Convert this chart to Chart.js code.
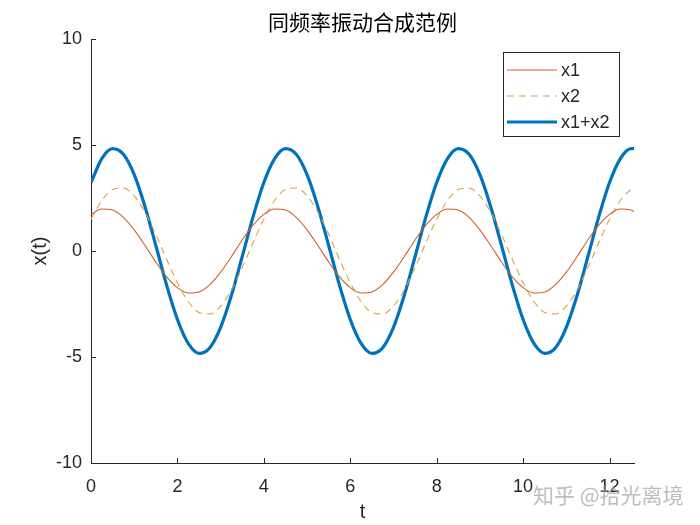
<!DOCTYPE html>
<html>
<head>
<meta charset="utf-8">
<script src="https://cdn.jsdelivr.net/npm/chart.js@4/dist/chart.umd.min.js"></script>
<style>
  html, body { margin: 0; padding: 0; background: #fff; }
  #wrap { width: 700px; height: 525px; position: relative; }
</style>
</head>
<body>
<div id="wrap"><canvas id="mycanvas" width="700" height="525"></canvas></div>
<script>
var titleText = "同频率振动合成范例";
var xLabel = "t";
var yLabel = "x(t)";
var watermark = "知乎 @拾光离境";
var seriesNames = ["x1", "x2", "x1+x2"];

var t = [0, 0.25, 0.5, 0.75, 1, 1.25, 1.5, 1.75, 2, 2.25, 2.5, 2.75, 3, 3.25, 3.5, 3.75,
  4, 4.25, 4.5, 4.75, 5, 5.25, 5.5, 5.75, 6, 6.25, 6.5, 6.75, 7, 7.25, 7.5, 7.75,
  8, 8.25, 8.5, 8.75, 9, 9.25, 9.5, 9.75, 10, 10.25, 10.5, 10.75, 11, 11.25, 11.5, 11.75,
  12, 12.25, 12.5, 12.566];

var x1 = [1.73, 1.98, 1.93, 1.59, 1.00, 0.26, -0.52, -1.22, -1.73, -1.98, -1.93, -1.59, -1.00, -0.26, 0.52, 1.22,
  1.73, 1.98, 1.93, 1.59, 1.00, 0.26, -0.52, -1.22, -1.73, -1.98, -1.93, -1.59, -1.00, -0.26, 0.52, 1.22,
  1.73, 1.98, 1.93, 1.59, 1.00, 0.26, -0.52, -1.22, -1.73, -1.98, -1.93, -1.59, -1.00, -0.26, 0.52, 1.22,
  1.73, 1.98, 1.93, 1.87];

var x2 = [1.50, 2.38, 2.90, 2.97, 2.60, 1.83, 0.78, -0.39, -1.50, -2.38, -2.90, -2.97, -2.60, -1.83, -0.78, 0.39,
  1.50, 2.38, 2.90, 2.97, 2.60, 1.83, 0.78, -0.39, -1.50, -2.38, -2.90, -2.97, -2.60, -1.83, -0.78, 0.39,
  1.50, 2.38, 2.90, 2.97, 2.60, 1.83, 0.78, -0.39, -1.50, -2.38, -2.90, -2.97, -2.60, -1.83, -0.78, 0.39,
  1.50, 2.38, 2.90, 2.96];

var xsum = [3.23, 4.36, 4.83, 4.56, 3.60, 2.09, 0.26, -1.61, -3.23, -4.36, -4.83, -4.56, -3.60, -2.09, -0.26, 1.61,
  3.23, 4.36, 4.83, 4.56, 3.60, 2.09, 0.26, -1.61, -3.23, -4.36, -4.83, -4.56, -3.60, -2.09, -0.26, 1.61,
  3.23, 4.36, 4.83, 4.56, 3.60, 2.09, 0.26, -1.61, -3.23, -4.36, -4.83, -4.56, -3.60, -2.09, -0.26, 1.61,
  3.23, 4.36, 4.83, 4.83];

var xTicks = [0, 2, 4, 6, 8, 10, 12];
var yTicks = [-10, -5, 0, 5, 10];

function pts(ys) {
  var out = [];
  for (var i = 0; i < t.length; i++) out.push({x: t[i], y: ys[i]});
  return out;
}

var axisColor = "#262626";
var tickFont = {family: "'Liberation Sans', Arial, sans-serif", size: 18};

var styles = [
  {color: "#D0602C", width: 1.1, dash: []},
  {color: "#DDA044", width: 1.1, dash: [7, 5]},
  {color: "#0072BD", width: 3.2, dash: []}
];

var decor = {
  id: "decor",
  afterDraw: function(chart) {
    var ctx = chart.ctx;
    var xs = chart.scales.x, ys = chart.scales.y;
    var a = chart.chartArea;
    ctx.save();
    // inward ticks
    ctx.strokeStyle = axisColor;
    ctx.lineWidth = 1;
    ctx.beginPath();
    xTicks.forEach(function(v) {
      var px = Math.round(xs.getPixelForValue(v)) + 0.5;
      ctx.moveTo(px, a.bottom);
      ctx.lineTo(px, a.bottom - 5);
    });
    yTicks.forEach(function(v) {
      var py = Math.round(ys.getPixelForValue(v)) + 0.5;
      ctx.moveTo(a.left, py);
      ctx.lineTo(a.left + 5, py);
    });
    ctx.stroke();

    // title
    ctx.fillStyle = "#000";
    ctx.font = "21px 'Noto Sans CJK SC', sans-serif";
    ctx.textAlign = "center";
    ctx.textBaseline = "middle";
    ctx.fillText(titleText, (a.left + a.right) / 2, 22);

    // axis labels
    ctx.fillStyle = axisColor;
    ctx.font = "20px 'Liberation Sans', Arial, sans-serif";
    ctx.fillText(xLabel, (a.left + a.right) / 2, 512);
    ctx.save();
    ctx.translate(40, (a.top + a.bottom) / 2);
    ctx.rotate(-Math.PI / 2);
    ctx.fillText(yLabel, 0, 0);
    ctx.restore();

    // legend
    var lx = 503.5, ly = 52.5, lw = 116, lh = 84;
    ctx.fillStyle = "#fff";
    ctx.fillRect(lx, ly, lw, lh);
    ctx.strokeStyle = axisColor;
    ctx.lineWidth = 1;
    ctx.strokeRect(lx, ly, lw, lh);
    ctx.textAlign = "left";
    ctx.font = "18px 'Liberation Sans', Arial, sans-serif";
    seriesNames.forEach(function(name, i) {
      var yy = 70 + i * 26;
      var s = styles[i];
      ctx.strokeStyle = s.color;
      ctx.lineWidth = s.width;
      ctx.setLineDash(s.dash);
      ctx.beginPath();
      ctx.moveTo(507, yy);
      ctx.lineTo(557, yy);
      ctx.stroke();
      ctx.setLineDash([]);
      ctx.fillStyle = axisColor;
      ctx.fillText(name, 561, yy + 1);
    });

    // watermark
    ctx.fillStyle = "rgba(160,160,160,0.7)";
    ctx.font = "21px 'Noto Sans CJK SC', sans-serif";
    ctx.textAlign = "left";
    ctx.fillText(watermark, 533, 495);
    ctx.restore();
  }
};

var datasets = [x1, x2, xsum].map(function(ys, i) {
  return {
    label: seriesNames[i],
    data: pts(ys),
    borderColor: styles[i].color,
    borderWidth: styles[i].width,
    borderDash: styles[i].dash,
    pointRadius: 0,
    fill: false,
    cubicInterpolationMode: "monotone"
  };
});
datasets[0].order = 1;
datasets[1].order = 2;
datasets[2].order = 3;

new Chart(document.getElementById("mycanvas"), {
  type: "line",
  data: {datasets: datasets},
  options: {
    responsive: false,
    animation: false,
    layout: {padding: {left: 0, top: 39, right: 66, bottom: 0}},
    plugins: {legend: {display: false}, tooltip: {enabled: false}, title: {display: false}},
    scales: {
      x: {
        type: "linear",
        min: 0,
        max: 12.566,
        afterBuildTicks: function(s) { s.ticks = xTicks.map(function(v) { return {value: v}; }); },
        afterFit: function(s) { s.height = 62; },
        grid: {display: false, drawTicks: false},
        border: {display: true, color: axisColor, width: 1},
        ticks: {color: axisColor, font: tickFont, padding: 13, maxRotation: 0}
      },
      y: {
        min: -10,
        max: 10,
        afterBuildTicks: function(s) { s.ticks = yTicks.map(function(v) { return {value: v}; }); },
        afterFit: function(s) { s.width = 91; },
        grid: {display: false, drawTicks: false},
        border: {display: true, color: axisColor, width: 1},
        ticks: {color: axisColor, font: tickFont, padding: 9}
      }
    }
  },
  plugins: [decor]
});
</script>
</body>
</html>
